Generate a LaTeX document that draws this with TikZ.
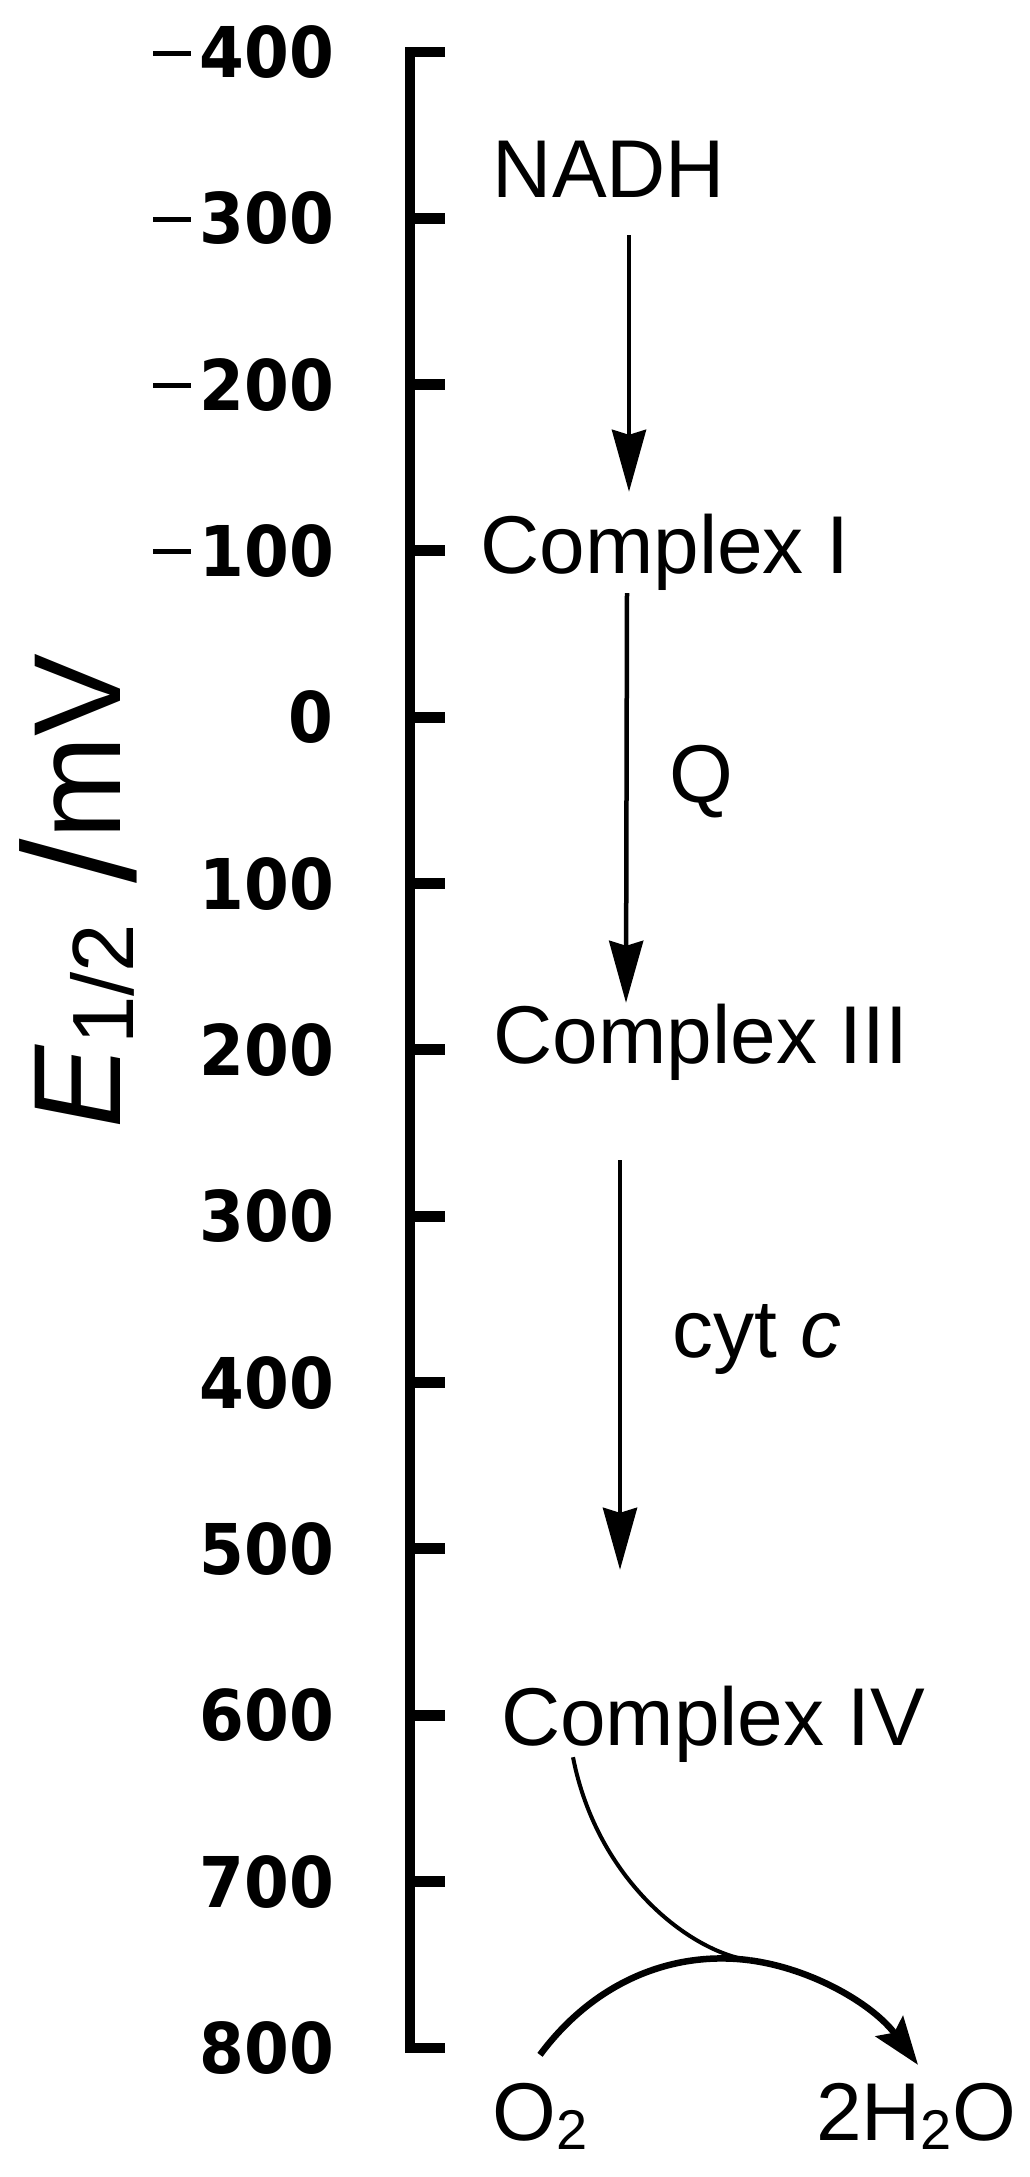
\documentclass[tikz,border=0pt]{standalone}
\usepackage{fontspec}
\usepackage{graphicx}
\setmainfont{Liberation Sans}
\newfontfamily\tickfont{DejaVu Sans}[FakeStretch=0.92]
\usetikzlibrary{arrows.meta}
\newcommand\tminus{\rule[22pt]{38pt}{5pt}\hspace{8pt}}
\newcommand\chsub[1]{\raisebox{-9pt}{\fontsize{56}{56}\selectfont #1}}
\begin{document}
\begin{tikzpicture}[x=1pt,y=-1pt,
  axtick/.style={line width=11pt},
  ticklab/.style={anchor=base east, inner sep=0pt, font=\tickfont\fontsize{70}{70}\selectfont\bfseries},
  lab/.style={anchor=base, inner sep=0pt, text height=60pt, text depth=17pt, font=\fontsize{82}{82}\selectfont},
  arr/.style={line width=4.5pt, -{Stealth[length=62pt,width=34pt,inset=5pt]}},
  thinline/.style={line width=4pt},
  thickline/.style={line width=6.5pt},
  thickarr/.style={line width=6.5pt, -{Stealth[length=48pt,width=34pt,inset=8pt]}}
]
\fill[white] (0,0) rectangle (1030,2177);
\useasboundingbox (0,0) rectangle (1030,2177);

% axis
\draw[line width=10pt] (445,52) -- (410,52) -- (410,2048) -- (445,2048);
\foreach \v in {-300,-200,...,700} {
  \draw[axtick] (410,{52+(\v+400)*1.6633}) -- (445,{52+(\v+400)*1.6633});
}
% tick labels
\foreach \v/\t [count=\i] in {-400/{\tminus400},-300/{\tminus300},-200/{\tminus200},-100/{\tminus100},0/0,100/100,200/200,300/300,400/400,500/500,600/600,700/700,800/800} {
  \node[ticklab] (t\i) at (334,{52+(\v+400)*1.6633+25.5}) {\t};
}

% axis title
\node[rotate=90, anchor=base, inner sep=0pt, font=\fontsize{124}{124}\selectfont] (ylab) at (120,891)
  {\textit{E}\raisebox{-13pt}{\fontsize{87}{87}\selectfont 1/2}\hspace{40pt}\raisebox{-15pt}{\fontsize{160}{160}\selectfont /}mV};

% labels
\node[lab] (nadh) at (609,197) {NADH};
\node[lab] (c1) at (665,573) {Complex I};
\node[lab] (q) at (701,802) {Q};
\node[lab] (c3) at (701,1063) {Complex III};
\node[lab] (cyt) at (757,1357) {cyt \textit{c}};
\node[lab] (c4) at (713,1745) {Complex IV};
\node[lab] (o2) at (540,2140) {O\chsub{2}};
\node[lab] (h2o) at (916,2140) {2H\chsub{2}O};

% arrows
\draw[arr] ([xshift=20pt,yshift=-21pt]nadh.south) -- ([xshift=-36pt,yshift=21pt]c1.north);
\draw[arr] ([xshift=-38pt,yshift=-3pt]c1.south) -- ([xshift=-75pt]c3.north);
\draw[arr] ([xshift=-81pt,yshift=-80pt]c3.south) -- ([xshift=-93pt,yshift=115pt]c4.north);

% oxygen reduction
\coordinate (m) at (750,1960.3);
\draw[thickline] ([yshift=25pt]o2.north) .. controls (595,1980.75) and (673.6,1950.2) .. (m);
\draw[thinline] ([xshift=-140pt,yshift=5pt]c4.south) .. controls (597,1880) and (690,1952) .. (m);
\draw[thickarr] (m) .. controls (812.1,1968.6) and (873,2004.25) .. ([xshift=2pt,yshift=15pt]h2o.north);
\end{tikzpicture}
\end{document}
